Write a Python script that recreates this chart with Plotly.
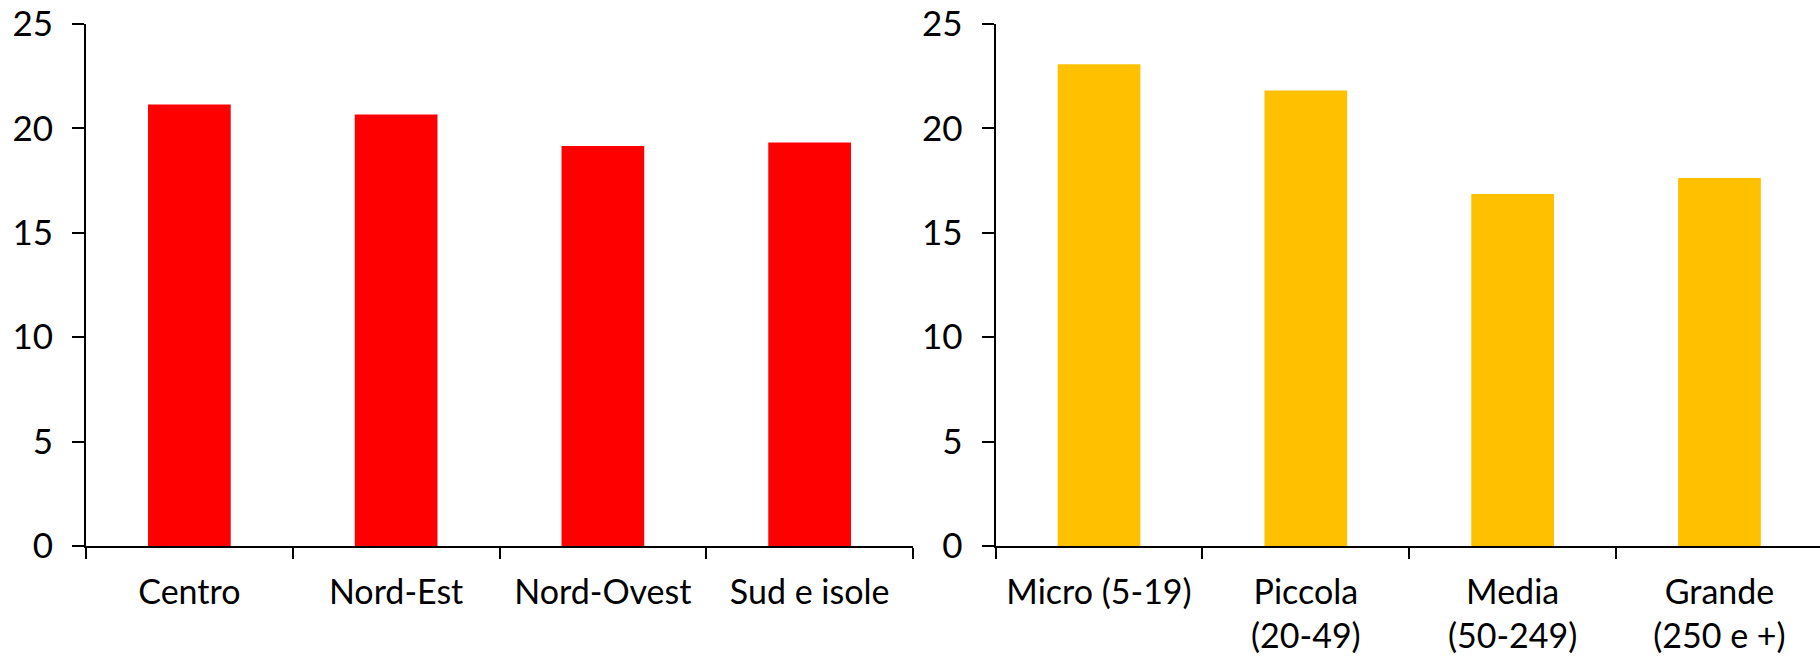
import plotly.graph_objects as go
from plotly.subplots import make_subplots

# Share values by macro-area and by firm size class
aree = ["Centro", "Nord-Est", "Nord-Ovest", "Sud e isole"]
valori_aree = [21.15, 20.67, 19.16, 19.33]

classi = ["Micro (5-19)", "Piccola<br>(20-49)", "Media<br>(50-249)", "Grande<br>(250 e +)"]
valori_classi = [23.07, 21.82, 16.86, 17.62]

y_ticks = [0, 5, 10, 15, 20, 25]

W, H = 1820, 659
FONT = "Lato, Calibri, Carlito, sans-serif"

fig = make_subplots(rows=1, cols=2)

fig.add_trace(go.Bar(x=aree, y=valori_aree, marker=dict(color="#FF0000", line=dict(width=0)),
                     width=0.4, showlegend=False), row=1, col=1)
fig.add_trace(go.Bar(x=classi, y=valori_classi, marker=dict(color="#FFC000", line=dict(width=0)),
                     width=0.4, showlegend=False), row=1, col=2)

y_bottom = (H - 546) / H
y_top = (H - 24) / H

common_x = dict(
    type="category", showgrid=False, zeroline=False, automargin=False,
    showline=True, linecolor="black", linewidth=2,
    ticks="outside", ticklen=11, tickwidth=2, tickcolor="black",
    tickson="boundaries",
    tickfont=dict(family=FONT, size=34, color="black"),
    ticklabelstandoff=15,
)
common_y = dict(
    range=[0, 25], tickvals=y_ticks, showgrid=False, zeroline=False, automargin=False,
    showline=True, linecolor="black", linewidth=2,
    ticks="outside", ticklen=12, tickwidth=2, tickcolor="black",
    tickfont=dict(family=FONT, size=35, color="black"),
    domain=[y_bottom, y_top], ticklabelstandoff=12,
)

fig.update_layout(
    width=W, height=H,
    margin=dict(l=0, r=0, t=0, b=0, autoexpand=False),
    paper_bgcolor="white", plot_bgcolor="white",
    xaxis=dict(common_x, domain=[86 / W, 913 / W], range=[-0.5, 3.5], anchor="y"),
    xaxis2=dict(common_x, domain=[995.6 / W, 1.0], range=[-0.5, 3.486], anchor="y2"),
    yaxis=dict(common_y, anchor="x"),
    yaxis2=dict(common_y, anchor="x2"),
)

fig.write_html("out.html")
